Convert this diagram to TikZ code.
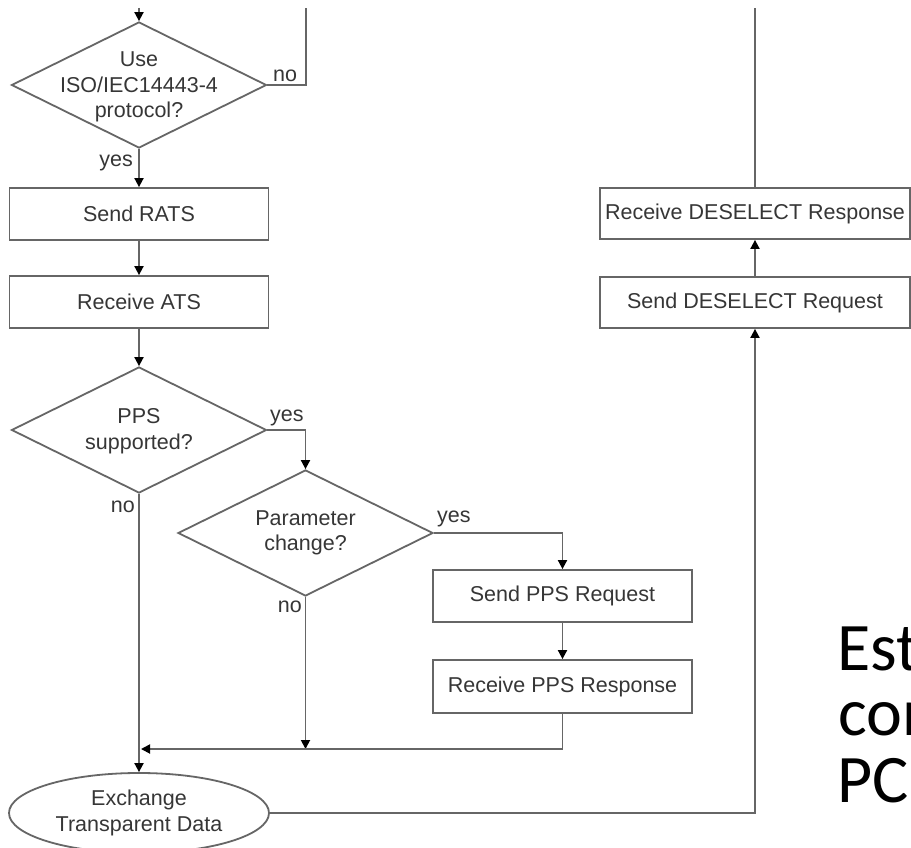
\documentclass[tikz,border=0pt]{standalone}
\usepackage{fontspec}
\setmainfont{Liberation Sans}
\newfontfamily\slidefont{Carlito}
\usetikzlibrary{shapes.geometric,arrows.meta}

\definecolor{edge}{HTML}{666666}
\definecolor{ink}{HTML}{363636}

\begin{document}
\begin{tikzpicture}[x=1pt,y=-1pt,
  every node/.style={font=\fontsize{21.5}{25.5}\selectfont, text=ink},
  proc/.style={draw=edge, line width=1.8pt, rectangle, inner sep=0pt,
    minimum width=259pt, minimum height=52pt},
  wideproc/.style={proc, minimum width=310pt, minimum height=51pt},
  decision/.style={draw=edge, line width=1.8pt, diamond, inner sep=0pt,
    minimum width=255pt, minimum height=126pt},
  inside/.style={align=center, inner sep=0pt},
  terminal/.style={draw=edge, line width=1.8pt, ellipse, inner sep=0pt,
    minimum width=260pt, minimum height=80pt, align=center},
  lbl/.style={inner sep=0pt},
  flow/.style={draw=edge, line width=1.8pt},
  arr/.style={flow, -{Triangle[width=9pt,length=9pt,color=black]}},
  slide/.style={font=\slidefont\fontsize{68}{66}\selectfont, text=black,
    inner sep=0pt, anchor=base west}]

% page
\fill[white] (0,0) rectangle (911,848);
\useasboundingbox (0,0) rectangle (911,848);

% decisions: outline first, wording on top
\node[decision] (iso) at (139,85) {};
\node[inside] (isotxt) at (139,87) {Use\\ISO/IEC14443-4\\protocol?};
\node[decision] (pps) at (139,430) {};
\node[inside] (ppstxt) at (139,431) {PPS\\supported?};
\node[decision] (par) at (305.5,533) {};
\node[inside] (partxt) at (305.5,533) {Parameter\\change?};

% process boxes
\node[proc] (rats) at (139,214) {Send RATS};
\node[proc] (ats) at (139,302) {Receive ATS};
\node[proc] (sreq) at (562.5,596) {Send PPS Request};
\node[proc, minimum height=53pt] (sresp) at (562.5,686.5) {Receive PPS Response};
\node[terminal] (xch) at (139,813) {Exchange\\Transparent Data};

% right column
\node[wideproc] (dresp) at (755,213.5) {Receive DESELECT Response};
\node[wideproc] (dreq) at (755,302.5) {Send DESELECT Request};

% loose ends at the top edge
\coordinate (in) at (139,8);
\coordinate (noout) at (306,8);
\coordinate (out) at (755,8);
\coordinate (join) at (141,749);

% connectors
\draw[arr] (in) -- (iso.north);
\draw[flow] (iso.east) -| (noout);
\draw[arr] (iso.south) -- (rats.north);
\draw[arr] (rats.south) -- (ats.north);
\draw[arr] (ats.south) -- (pps.north);
\draw[arr] (pps.east) -| (par.north);
\draw[arr] (pps.south) -- (xch.north);
\draw[arr] (par.east) -| (sreq.north);
\draw[arr] (par.south) -- (par.south |- join);
\draw[arr] (sreq.south) -- (sresp.north);
\draw[arr] (sresp.south) |- (join);
\draw[arr] (xch.east) -| (dreq.south);
\draw[arr] (dreq.north) -- (dresp.south);
\draw[flow] (dresp.north) -- (out);

% branch labels
\node[lbl, anchor=base west] (isono) at (273,82) {no};
\node[lbl, anchor=base east] (isoyes) at (133,167) {yes};
\node[lbl, anchor=base west] (ppsyes) at (270,421) {yes};
\node[lbl, anchor=base east] (ppsno) at (135,512) {no};
\node[lbl, anchor=base west] (paryes) at (437,522) {yes};
\node[lbl, anchor=base east] (parno) at (302,612) {no};

% slide caption, running off the right edge
\node[slide] (cap1) at (837,670) {Est};
\node[slide] (cap2) at (838,735) {con};
\node[slide] (cap3) at (837,802) {PC};
\end{tikzpicture}
\end{document}
